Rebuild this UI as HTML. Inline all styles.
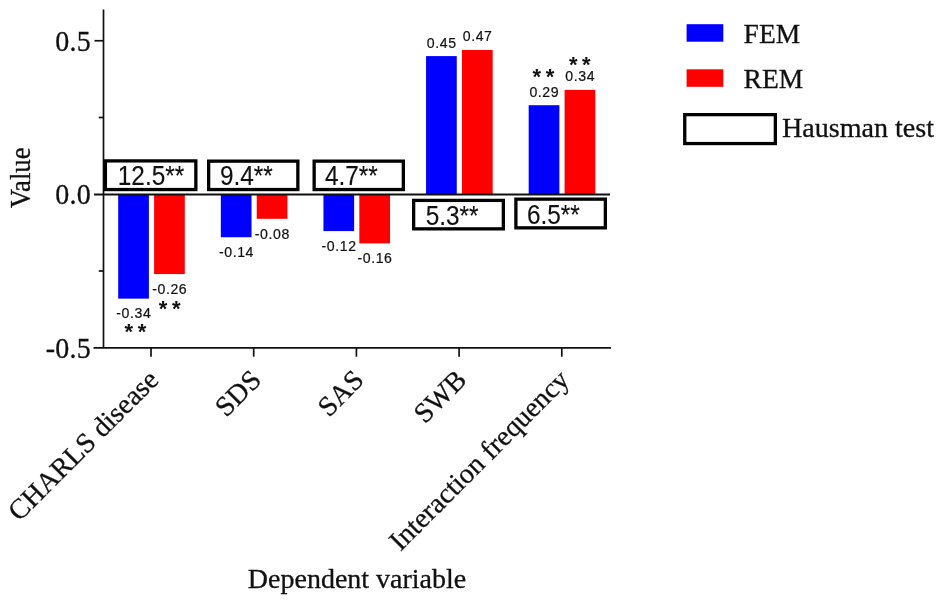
<!DOCTYPE html>
<html><head><meta charset="utf-8"><title>Chart</title>
<style>
html,body{margin:0;padding:0;background:#fff;}
svg{display:block}
</style></head>
<body>
<svg width="945" height="604" viewBox="0 0 945 604">
<rect width="945" height="604" fill="#fff"/>
<rect x="118.20" y="194.25" width="30.70" height="104.38" fill="#0000fe"/>
<rect x="154.10" y="194.25" width="30.70" height="79.82" fill="#fe0000"/>
<rect x="220.82" y="194.25" width="30.70" height="42.98" fill="#0000fe"/>
<rect x="256.72" y="194.25" width="30.70" height="24.56" fill="#fe0000"/>
<rect x="323.44" y="194.25" width="30.70" height="36.84" fill="#0000fe"/>
<rect x="359.34" y="194.25" width="30.70" height="49.12" fill="#fe0000"/>
<rect x="426.06" y="56.10" width="30.70" height="138.15" fill="#0000fe"/>
<rect x="461.96" y="49.96" width="30.70" height="144.29" fill="#fe0000"/>
<rect x="528.68" y="105.22" width="30.70" height="89.03" fill="#0000fe"/>
<rect x="564.58" y="89.87" width="30.70" height="104.38" fill="#fe0000"/>
<line x1="103.50" y1="9.50" x2="103.50" y2="348.25" stroke="#111" stroke-width="1.7"/>
<line x1="93.50" y1="347.80" x2="611.00" y2="347.80" stroke="#111" stroke-width="1.7"/>
<line x1="94.00" y1="194.50" x2="610.00" y2="194.50" stroke="#111" stroke-width="1.9"/>
<line x1="94.50" y1="40.75" x2="103.50" y2="40.75" stroke="#111" stroke-width="1.7"/>
<line x1="98.75" y1="117.50" x2="103.50" y2="117.50" stroke="#111" stroke-width="1.7"/>
<line x1="98.75" y1="271.00" x2="103.50" y2="271.00" stroke="#111" stroke-width="1.7"/>
<line x1="151.00" y1="347.80" x2="151.00" y2="356.70" stroke="#111" stroke-width="1.7"/>
<line x1="253.70" y1="347.80" x2="253.70" y2="356.70" stroke="#111" stroke-width="1.7"/>
<line x1="356.40" y1="347.80" x2="356.40" y2="356.70" stroke="#111" stroke-width="1.7"/>
<line x1="459.10" y1="347.80" x2="459.10" y2="356.70" stroke="#111" stroke-width="1.7"/>
<line x1="561.80" y1="347.80" x2="561.80" y2="356.70" stroke="#111" stroke-width="1.7"/>
<text transform="translate(91.00,50.75) scale(1,1.035)" font-family='"Liberation Serif", serif' font-size="28" text-anchor="end" fill="#111" letter-spacing="0.25" stroke="#111" stroke-width="0.3">0.5</text>
<text transform="translate(91.00,204.25) scale(1,1.035)" font-family='"Liberation Serif", serif' font-size="28" text-anchor="end" fill="#111" letter-spacing="0.25" stroke="#111" stroke-width="0.3">0.0</text>
<text transform="translate(91.00,357.75) scale(1,1.035)" font-family='"Liberation Serif", serif' font-size="28" text-anchor="end" fill="#111" letter-spacing="0.25" stroke="#111" stroke-width="0.3">-0.5</text>
<text transform="translate(30.40,177.90) rotate(-90) scale(1,1.1)" font-family='"Liberation Serif", serif' font-size="26.7" text-anchor="middle" fill="#111" stroke="#111" stroke-width="0.3">Value</text>
<text transform="translate(247.80,587.70)" font-family='"Liberation Serif", serif' font-size="28.0" text-anchor="start" fill="#111" stroke="#111" stroke-width="0.3">Dependent variable</text>
<text transform="translate(160.00,381.50) rotate(-45)" font-family='"Liberation Serif", serif' font-size="28.1" text-anchor="end" fill="#111" stroke="#111" stroke-width="0.3">CHARLS disease</text>
<text transform="translate(262.70,381.50) rotate(-45)" font-family='"Liberation Serif", serif' font-size="28.1" text-anchor="end" fill="#111" stroke="#111" stroke-width="0.3">SDS</text>
<text transform="translate(365.40,381.50) rotate(-45)" font-family='"Liberation Serif", serif' font-size="28.1" text-anchor="end" fill="#111" stroke="#111" stroke-width="0.3">SAS</text>
<text transform="translate(468.10,381.50) rotate(-45)" font-family='"Liberation Serif", serif' font-size="28.1" text-anchor="end" fill="#111" stroke="#111" stroke-width="0.3">SWB</text>
<text transform="translate(570.80,381.50) rotate(-45)" font-family='"Liberation Serif", serif' font-size="28.1" text-anchor="end" fill="#111" stroke="#111" stroke-width="0.3">Interaction frequency</text>
<rect x="105.40" y="160.90" width="90.45" height="28.65" fill="#fff" stroke="#000" stroke-width="3.3"/>
<text transform="translate(117.80,184.90) scale(1,1.1)" font-family='"Liberation Sans", sans-serif' font-size="24.4" text-anchor="start" fill="#111" stroke="#111" stroke-width="0.12">12.5**</text>
<rect x="208.65" y="161.15" width="89.20" height="28.40" fill="#fff" stroke="#000" stroke-width="3.3"/>
<text transform="translate(219.90,184.90) scale(1,1.1)" font-family='"Liberation Sans", sans-serif' font-size="24.4" text-anchor="start" fill="#111" stroke="#111" stroke-width="0.12">9.4**</text>
<rect x="314.15" y="161.15" width="89.20" height="28.40" fill="#fff" stroke="#000" stroke-width="3.3"/>
<text transform="translate(324.90,184.90) scale(1,1.1)" font-family='"Liberation Sans", sans-serif' font-size="24.4" text-anchor="start" fill="#111" stroke="#111" stroke-width="0.12">4.7**</text>
<rect x="413.65" y="200.40" width="89.70" height="28.45" fill="#fff" stroke="#000" stroke-width="3.3"/>
<text transform="translate(425.70,224.50) scale(1,1.1)" font-family='"Liberation Sans", sans-serif' font-size="24.4" text-anchor="start" fill="#111" stroke="#111" stroke-width="0.12">5.3**</text>
<rect x="515.90" y="199.15" width="89.45" height="28.70" fill="#fff" stroke="#000" stroke-width="3.3"/>
<text transform="translate(526.90,223.50) scale(1,1.1)" font-family='"Liberation Sans", sans-serif' font-size="24.4" text-anchor="start" fill="#111" stroke="#111" stroke-width="0.12">6.5**</text>
<text transform="translate(133.85,318.33) scale(1,1.05)" font-family='"Liberation Sans", sans-serif' font-size="14.1" text-anchor="middle" fill="#111" letter-spacing="0.6" stroke="#111" stroke-width="0.2">-0.34</text>
<text transform="translate(169.75,293.77) scale(1,1.05)" font-family='"Liberation Sans", sans-serif' font-size="14.1" text-anchor="middle" fill="#111" letter-spacing="0.6" stroke="#111" stroke-width="0.2">-0.26</text>
<text transform="translate(236.47,256.93) scale(1,1.05)" font-family='"Liberation Sans", sans-serif' font-size="14.1" text-anchor="middle" fill="#111" letter-spacing="0.6" stroke="#111" stroke-width="0.2">-0.14</text>
<text transform="translate(272.37,238.51) scale(1,1.05)" font-family='"Liberation Sans", sans-serif' font-size="14.1" text-anchor="middle" fill="#111" letter-spacing="0.6" stroke="#111" stroke-width="0.2">-0.08</text>
<text transform="translate(339.09,250.79) scale(1,1.05)" font-family='"Liberation Sans", sans-serif' font-size="14.1" text-anchor="middle" fill="#111" letter-spacing="0.6" stroke="#111" stroke-width="0.2">-0.12</text>
<text transform="translate(374.99,263.07) scale(1,1.05)" font-family='"Liberation Sans", sans-serif' font-size="14.1" text-anchor="middle" fill="#111" letter-spacing="0.6" stroke="#111" stroke-width="0.2">-0.16</text>
<text transform="translate(441.71,47.50) scale(1,1.05)" font-family='"Liberation Sans", sans-serif' font-size="14.1" text-anchor="middle" fill="#111" letter-spacing="0.6" stroke="#111" stroke-width="0.2">0.45</text>
<text transform="translate(477.61,41.36) scale(1,1.05)" font-family='"Liberation Sans", sans-serif' font-size="14.1" text-anchor="middle" fill="#111" letter-spacing="0.6" stroke="#111" stroke-width="0.2">0.47</text>
<text transform="translate(544.33,96.62) scale(1,1.05)" font-family='"Liberation Sans", sans-serif' font-size="14.1" text-anchor="middle" fill="#111" letter-spacing="0.6" stroke="#111" stroke-width="0.2">0.29</text>
<text transform="translate(580.23,81.27) scale(1,1.05)" font-family='"Liberation Sans", sans-serif' font-size="14.1" text-anchor="middle" fill="#111" letter-spacing="0.6" stroke="#111" stroke-width="0.2">0.34</text>
<text transform="translate(137.70,338.60)" font-family='"Liberation Sans", sans-serif' font-size="22" text-anchor="middle" fill="#111" letter-spacing="4.6" font-weight="bold">**</text>
<text transform="translate(172.00,316.30)" font-family='"Liberation Sans", sans-serif' font-size="22" text-anchor="middle" fill="#111" letter-spacing="4.6" font-weight="bold">**</text>
<text transform="translate(545.70,84.20)" font-family='"Liberation Sans", sans-serif' font-size="22" text-anchor="middle" fill="#111" letter-spacing="4.6" font-weight="bold">**</text>
<text transform="translate(582.10,72.40)" font-family='"Liberation Sans", sans-serif' font-size="22" text-anchor="middle" fill="#111" letter-spacing="4.6" font-weight="bold">**</text>
<rect x="686.60" y="24.20" width="36.70" height="17.50" fill="#0000fe"/>
<rect x="686.60" y="69.30" width="36.70" height="17.50" fill="#fe0000"/>
<rect x="684.75" y="114.65" width="90.60" height="28.90" fill="#fff" stroke="#000" stroke-width="3.3"/>
<text transform="translate(743.60,42.60)" font-family='"Liberation Serif", serif' font-size="27.5" text-anchor="start" fill="#111" stroke="#111" stroke-width="0.3">FEM</text>
<text transform="translate(743.60,87.80)" font-family='"Liberation Serif", serif' font-size="27.5" text-anchor="start" fill="#111" stroke="#111" stroke-width="0.3">REM</text>
<text transform="translate(781.90,136.80)" font-family='"Liberation Serif", serif' font-size="28.1" text-anchor="start" fill="#111" stroke="#111" stroke-width="0.3">Hausman test</text>
</svg>
</body></html>
